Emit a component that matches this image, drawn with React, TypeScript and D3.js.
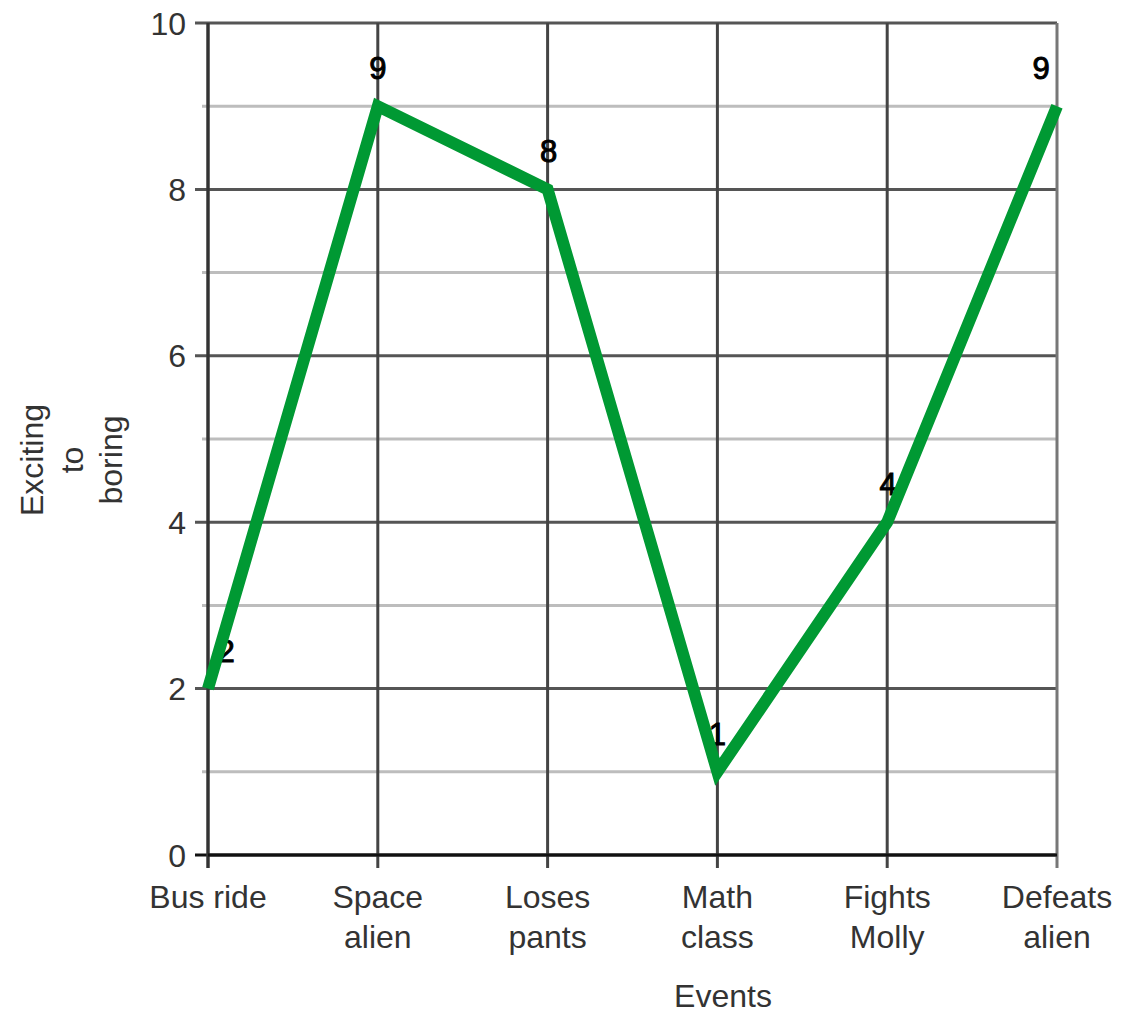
import React from "react";
import * as d3 from "d3";

const categories: string[][] = [
  ["Bus ride"],
  ["Space", "alien"],
  ["Loses", "pants"],
  ["Math", "class"],
  ["Fights", "Molly"],
  ["Defeats", "alien"],
];
const values: number[] = [2, 9, 8, 1, 4, 9];
const majorTicks: number[] = [0, 2, 4, 6, 8, 10];
const minorTicks: number[] = [1, 3, 5, 7, 9];
const labelOffsets: number[] = [18, 0, 1, 0, 1, -16];

const W = 1122;
const H = 1016;
const left = 208;
const right = 1057;
const top = 23;
const bottom = 855;
const font = "'Liberation Sans', Arial, sans-serif";

export default function App() {
  const x = d3.scalePoint<number>().domain(d3.range(categories.length)).range([left, right]).padding(0);
  const y = d3.scaleLinear().domain([0, 10]).range([bottom, top]);
  const line = d3
    .line<number>()
    .x((_, i) => x(i) as number)
    .y((d) => y(d));

  return (
    <svg width={W} height={H} style={{ position: "absolute", left: 0, top: 0 }}>
      <rect width={W} height={H} fill="#fff" />
      {minorTicks.map((t) => (
        <line key={"mi" + t} x1={202} x2={right} y1={y(t)} y2={y(t)} stroke="#bdbdbd" strokeWidth={3} />
      ))}
      {majorTicks.map((t) => (
        <line key={"ma" + t} x1={195} x2={right} y1={y(t)} y2={y(t)} stroke={t === 0 ? "#111" : "#555"} strokeWidth={3} />
      ))}
      {categories.map((_, i) => (
        <line
          key={"v" + i}
          x1={x(i)}
          x2={x(i)}
          y1={top}
          y2={868}
          stroke={i === categories.length - 1 ? "#777" : "#444"}
          strokeWidth={3}
        />
      ))}
      <line x1={left} x2={left} y1={top} y2={868} stroke="#333" strokeWidth={3} />
      <line x1={left} x2={right} y1={bottom} y2={bottom} stroke="#111" strokeWidth={3} />
      {majorTicks.map((t) => (
        <text
          key={"yl" + t}
          x={186}
          y={y(t)}
          dy="0.36em"
          textAnchor="end"
          fontFamily={font}
          fontSize={32}
          fill="#333"
        >
          {t}
        </text>
      ))}
      {categories.map((c, i) => (
        <text key={"xl" + i} x={x(i)} y={908} textAnchor="middle" fontFamily={font} fontSize={32} fill="#333">
          {c.map((s, j) => (
            <tspan key={j} x={x(i)} dy={j === 0 ? 0 : 40}>
              {s}
            </tspan>
          ))}
        </text>
      ))}
      {values.map((v, i) => (
        <text
          key={"dl" + i}
          x={(x(i) as number) + labelOffsets[i]}
          y={y(v) - 27}
          textAnchor="middle"
          fontFamily={font}
          fontSize={31}
          fill="#000"
          stroke="#000"
          strokeWidth={1}
        >
          {v}
        </text>
      ))}
      <path
        d={line(values) || ""}
        fill="none"
        stroke="#009933"
        strokeWidth={12}
        strokeLinejoin="miter"
        strokeMiterlimit={10}
      />
      <text x={723} y={1007} textAnchor="middle" fontFamily={font} fontSize={32} fill="#333">
        Events
      </text>
      <text
        transform={`translate(43,460) rotate(-90)`}
        textAnchor="middle"
        fontFamily={font}
        fontSize={32}
        fill="#333"
      >
        <tspan x={0} dy={0}>Exciting</tspan>
        <tspan x={0} dy={40}>to</tspan>
        <tspan x={0} dy={39}>boring</tspan>
      </text>
    </svg>
  );
}
